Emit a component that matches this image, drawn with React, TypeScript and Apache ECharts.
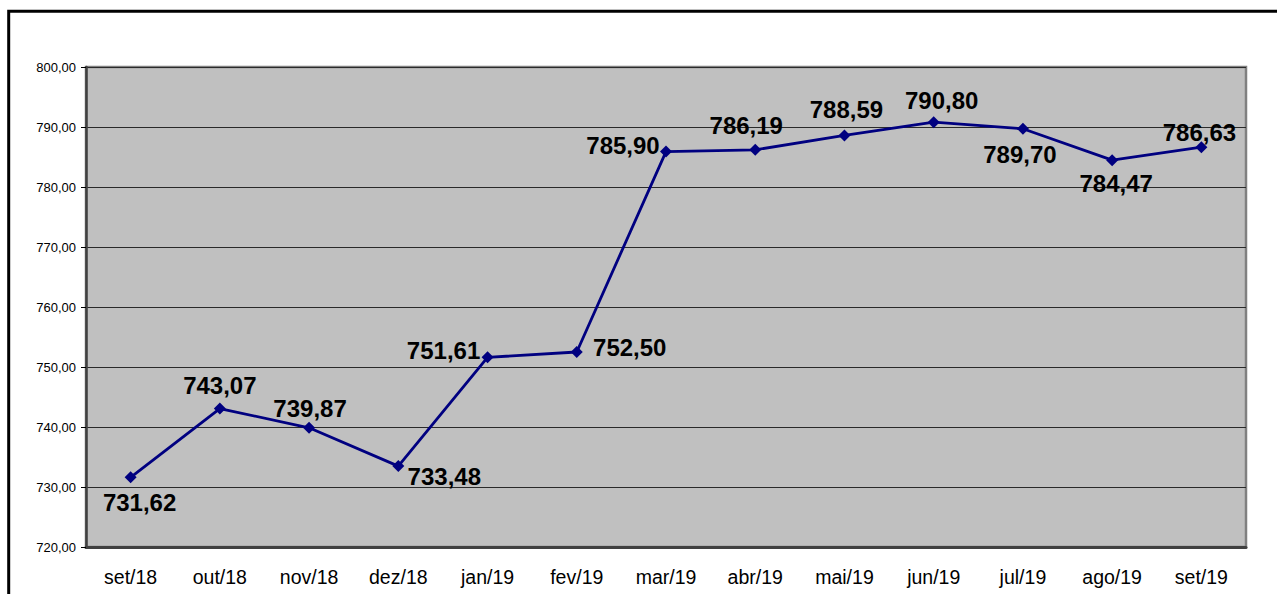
import React, { useEffect, useRef } from "react";
import * as echarts from "echarts";

const categories = ["set/18", "out/18", "nov/18", "dez/18", "jan/19", "fev/19", "mar/19", "abr/19", "mai/19", "jun/19", "jul/19", "ago/19", "set/19"];
const values = [731.62, 743.07, 739.87, 733.48, 751.61, 752.5, 785.9, 786.19, 788.59, 790.8, 789.7, 784.47, 786.63];
const labelOffsets: [number, number][] = [
  [9, 25], [0, -23], [1, -19], [46, 10], [-44, -7], [53, -5], [-43, -6],
  [-9, -24], [2, -26], [8, -22], [-3, 26], [4, 23], [-2, -15],
];

const fmt = (v: number) => v.toFixed(2).replace(".", ",");

export default function App() {
  const ref = useRef<HTMLDivElement>(null);
  useEffect(() => {
    const chart = echarts.init(ref.current!, null, { renderer: "svg" });
    chart.setOption({
      animation: false,
      backgroundColor: "#ffffff",
      textStyle: { fontFamily: "Arial, Liberation Sans, sans-serif" },
      graphic: [
        {
          type: "rect",
          shape: { x: 8.7, y: 11.3, width: 2000, height: 2000 },
          style: { fill: "none", stroke: "#000", lineWidth: 3 },
          z: 100,
        },
      ],
      grid: {
        left: 86,
        top: 67,
        right: 31,
        bottom: 47,
        show: true,
        backgroundColor: "#c0c0c0",
        borderColor: "#808080",
        borderWidth: 2.5,
      },
      xAxis: {
        type: "category",
        data: categories,
        boundaryGap: true,
        axisLine: { lineStyle: { color: "#404040", width: 3 } },
        axisTick: { length: 6, lineStyle: { color: "#000", width: 1 } },
        axisLabel: { color: "#000", fontSize: 19.5, margin: 20, fontFamily: "Arial, Liberation Sans, sans-serif" },
        splitLine: { show: false },
      },
      yAxis: {
        type: "value",
        min: 720,
        max: 800,
        interval: 10,
        axisLine: { show: true, lineStyle: { color: "#404040", width: 2.5 } },
        axisTick: { show: true, length: 5, lineStyle: { color: "#000", width: 1 } },
        axisLabel: { color: "#000", fontSize: 13, margin: 10, formatter: (v: number) => fmt(v), fontFamily: "Arial, Liberation Sans, sans-serif" },
        splitLine: { show: true, lineStyle: { color: "#2a2a2a", width: 1.2 } },
      },
      series: [
        {
          type: "line",
          data: values.map((v, i) => ({
            value: v,
            label: { offset: labelOffsets[i] },
          })),
          symbol: "diamond",
          symbolSize: 12,
          itemStyle: { color: "#000080" },
          lineStyle: { color: "#000080", width: 2.8 },
          label: {
            show: true,
            position: "inside",
            formatter: (p: any) => fmt(p.value),
            color: "#000",
            fontSize: 24,
            fontWeight: "bold",
            fontFamily: "Arial, Liberation Sans, sans-serif",
          },
        },
      ],
    });
    return () => chart.dispose();
  }, []);
  return <div ref={ref} style={{ position: "absolute", left: 0, top: 0, width: 1277, height: 594 }} />;
}
